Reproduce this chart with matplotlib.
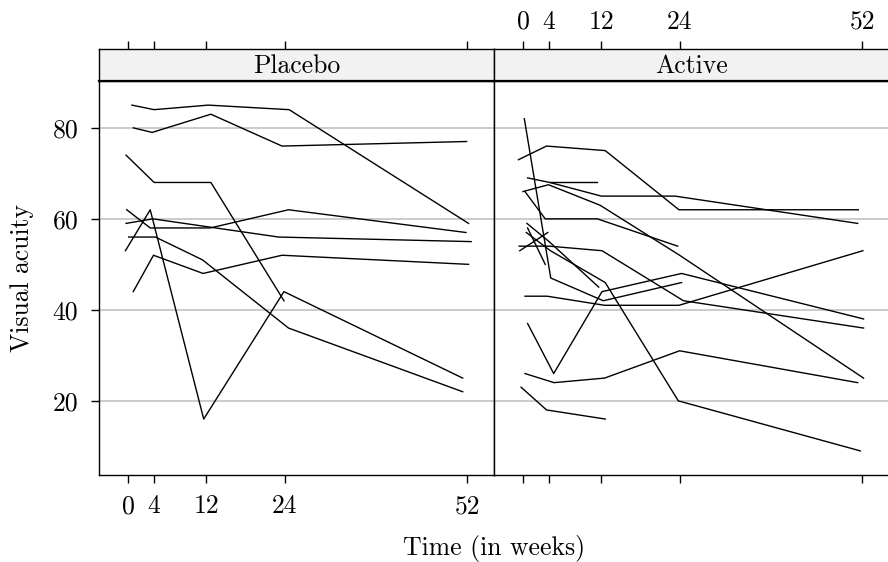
import matplotlib
matplotlib.use("Agg")
import matplotlib.pyplot as plt

# data (weeks are jittered as in the original plot)
week_ticks = [0, 4, 12, 24, 52]
y_ticks = [20, 40, 60, 80]

placebo_weeks = [
    [0.6, 4.0, 12.3, 24.7, 52.2],
    [0.8, 3.7, 12.7, 23.6, 51.9],
    [-0.3, 4.0, 12.7, 23.9],
    [-0.2, 3.4, 12.6, 24.6, 51.8],
    [-0.3, 3.8, 23.1, 52.6],
    [-0.4, 3.4, 11.6, 23.9, 51.3],
    [0.1, 4.2, 11.4, 24.6, 51.3],
    [0.8, 3.9, 11.5, 23.6, 52.2],
]
placebo_va = [
    [85, 84, 85, 84, 59],
    [80, 79, 83, 76, 77],
    [74, 68, 68, 42],
    [62, 58, 58, 62, 57],
    [59, 60, 56, 55],
    [53, 62, 16, 44, 25],
    [56, 56, 51, 36, 22],
    [44, 52, 48, 52, 50],
]

active_weeks = [
    [0.2, 4.25, 12.3, 24.3],
    [-0.7, 3.6, 12.6, 23.9, 51.4],
    [0.7, 4.1, 12.0, 23.3, 51.3],
    [4.1, 11.4],
    [0.0, 3.9, 11.8, 24.0, 52.2],
    [0.3, 3.4, 11.4, 23.7],
    [0.6, 4.0, 11.6],
    [0.7, 3.4],
    [-0.5, 3.8],
    [0.5, 4.2, 12.6, 23.8, 51.7],
    [-0.6, 4.0, 12.1, 24.6, 52.2],
    [0.3, 3.7, 12.5, 23.9, 52.1],
    [0.7, 4.7, 12.1, 24.3, 52.2],
    [0.3, 4.75, 12.5, 24.0, 51.3],
    [-0.3, 3.6, 12.6],
]
active_va = [
    [82, 47, 42, 46],
    [73, 76, 75, 62, 62],
    [69, 68, 65, 65, 59],
    [68, 68],
    [66, 67.5, 63, 52, 25],
    [66, 60, 60, 54],
    [59, 55, 45],
    [58, 50],
    [53, 57],
    [57, 53, 46, 20, 9],
    [54, 54, 53, 42, 36],
    [43, 43, 41, 41, 53],
    [37, 26, 44, 48, 38],
    [26, 24, 25, 31, 24],
    [23, 18, 16],
]

panels = ["Placebo", "Active"]

plt.rcParams["font.family"] = ["cmr10", "DejaVu Serif"]
plt.rcParams["axes.formatter.use_mathtext"] = True
fs = 18.5

fig = plt.figure(figsize=(8.88, 5.62), dpi=100)

W, H = 888.0, 562.0
xlim = (-4.45, 56.1)
ylim = (3.7, 90.3)

panel_left = [99, 494]
panel_w = 395
top, bottom = 81, 475
strip_top = 49

groups = [(placebo_weeks, placebo_va), (active_weeks, active_va)]

for i, (weeks, va) in enumerate(groups):
    l = panel_left[i] / W
    ax = fig.add_axes([l, (H - bottom) / H, panel_w / W, (bottom - top) / H])
    for yv in y_ticks:
        ax.axhline(yv, color="#bdbdbd", lw=1.1, zorder=0)
    for wx, vy in zip(weeks, va):
        ax.plot(wx, vy, color="black", lw=1.0)
    ax.set_xlim(xlim)
    ax.set_ylim(ylim)
    ax.set_xticks(week_ticks)
    ax.tick_params(axis="x", direction="out", length=6, width=1, pad=8, labelsize=fs)
    if i == 0:
        ax.set_xticklabels([str(t) for t in week_ticks])
        ax.set_yticks(y_ticks)
        ax.set_yticklabels([str(t) for t in y_ticks])
        ax.tick_params(axis="y", direction="out", length=6, width=1, pad=9, labelsize=fs)
    else:
        ax.set_xticklabels([])
        ax.set_yticks([])
    for s in ax.spines.values():
        s.set_linewidth(1.0)

    # strip
    st = fig.add_axes([l, (H - top) / H, panel_w / W, (top - strip_top) / H])
    st.set_facecolor("#f2f2f2")
    st.set_xlim(xlim)
    st.set_ylim(0, 1)
    st.set_yticks([])
    st.xaxis.tick_top()
    st.set_xticks(week_ticks)
    st.tick_params(axis="x", direction="out", length=6, width=1, pad=5, labelsize=fs)
    if i == 1:
        st.set_xticklabels([str(t) for t in week_ticks])
    else:
        st.set_xticklabels([])
    for s in st.spines.values():
        s.set_linewidth(1.0)
    st.spines["bottom"].set_linewidth(1.6)
    st.text(0.5, 0.45, panels[i], transform=st.transAxes, ha="center", va="center", fontsize=fs)

fig.text(494 / W, 1 - 548 / H, "Time (in weeks)", ha="center", va="center", fontsize=fs)
fig.text(22 / W, 1 - 278 / H, "Visual acuity", ha="center", va="center", rotation=90, fontsize=fs)

fig.savefig("out.png", dpi=100)
